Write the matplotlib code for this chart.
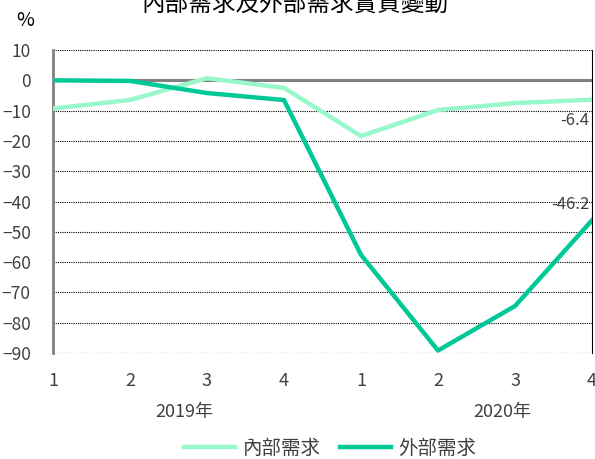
import matplotlib.pyplot as plt
import numpy as np

plt.rcParams['font.family'] = ['Liberation Sans Narrow', 'Noto Sans CJK TC', 'DejaVu Sans']

quarters = ['1', '2', '3', '4', '1', '2', '3', '4']
years = ['2019年', '2020年']
internal = [-9.3, -6.5, 0.7, -2.5, -18.4, -9.8, -7.5, -6.4]   # 內部需求
external = [0.0, -0.2, -4.2, -6.5, -57.6, -89.2, -74.5, -46.2]  # 外部需求

x = np.arange(len(quarters))

fig = plt.figure(figsize=(5.95, 4.59), dpi=100)
ax = fig.add_axes([0.089, 0.231, 0.906, 0.66])

# grid lines (dotted) and zero line
for v in range(10, -100, -10):
    if v == 0:
        ax.axhline(v, color='#808080', lw=2.2, zorder=1)
    else:
        ax.axhline(v, color='black', lw=0.8, ls=(0, (1, 1)), zorder=1)

ax.plot(x, internal, color='#99F7CC', lw=3.2, label='內部需求', zorder=3)
ax.plot(x, external, color='#00C896', lw=3.2, label='外部需求', zorder=4)

ax.set_xlim(0, 7)
ax.set_ylim(-90, 10)
ax.set_yticks(range(10, -100, -10))
ax.set_xticks(x)
ax.set_xticklabels(quarters)
ax.tick_params(axis='y', length=0, labelsize=12.5, colors='#404040', pad=16)
ax.tick_params(axis='x', length=0, labelsize=13, colors='#404040', pad=14)

for s in ['top', 'bottom']:
    ax.spines[s].set_visible(False)
ax.spines['left'].set_color('#808080')
ax.spines['left'].set_linewidth(2)
ax.spines['right'].set_color('black')
ax.spines['right'].set_linestyle((0, (1, 1)))
ax.spines['right'].set_linewidth(0.8)

# year labels
ax.text(1.70, -109.5, years[0], ha='center', va='center', fontsize=13, color='#404040')
ax.text(5.84, -109.5, years[1], ha='center', va='center', fontsize=13, color='#404040')

# end value labels
ax.text(6.97, internal[-1] - 4, f'{internal[-1]}', ha='right', va='top', fontsize=12, color='#404040')
ax.text(6.97, external[-1] + 2.5, f'{external[-1]}', ha='right', va='bottom', fontsize=12, color='#404040')

fig.text(0.043, 0.955, '%', ha='center', va='center', fontsize=14, color='black')
fig.text(0.495, 0.99, '內部需求及外部需求實質變動', ha='center', va='center',
         fontsize=17, color='black')

fig.legend(loc='center', bbox_to_anchor=(0.555, 0.024), ncol=2, frameon=False,
           fontsize=14, handlelength=2.6, columnspacing=1.0, handletextpad=0.4,
           labelcolor='#404040')

fig.savefig('out.png', dpi=100)
